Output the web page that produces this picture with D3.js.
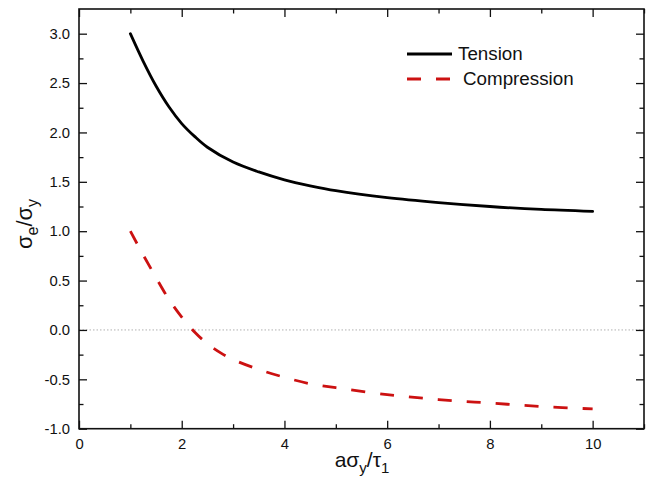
<!DOCTYPE html>
<html><head><meta charset="utf-8">
<script src="https://cdn.jsdelivr.net/npm/d3@7"></script>
<style>body{margin:0;background:#fff}svg{display:block}text{font-family:"Liberation Sans",Arial,sans-serif;fill:#111}</style>
</head><body><svg id="c" width="656" height="482"></svg>
<script>
const tensionX = [1, 1.25, 1.5, 1.75, 2, 2.25, 2.5, 3, 3.5, 4, 4.5, 5, 6, 7, 8, 9, 10];
const tensionY = [3.0, 2.72, 2.47, 2.26, 2.09, 1.96, 1.85, 1.70, 1.60, 1.52, 1.46, 1.41, 1.34, 1.29, 1.25, 1.22, 1.20];
const compX = [1, 1.25, 1.5, 1.75, 2, 2.25, 2.5, 2.75, 3, 3.5, 4, 4.5, 5, 6, 7, 8, 9, 10];
const compY = [1.0, 0.76, 0.53, 0.31, 0.13, -0.02, -0.14, -0.23, -0.30, -0.40, -0.48, -0.545, -0.585, -0.655, -0.705, -0.74, -0.775, -0.80];
const xMajor = [0, 2, 4, 6, 8, 10];
const xMinor = [1, 3, 5, 7, 9, 11];
const yMajor = [-1.0, -0.5, 0.0, 0.5, 1.0, 1.5, 2.0, 2.5, 3.0];
const yMinor = [-0.75, -0.25, 0.25, 0.75, 1.25, 1.75, 2.25, 2.75];
const seriesNames = ["Tension", "Compression"];

const svg = d3.select("#c");
const L = 79, R = 644, T = 9, B = 428.7;
const x = d3.scaleLinear().domain([0, 11]).range([L, R]);
const y = d3.scaleLinear().domain([-1, 3.25]).range([B, T]);

// zero line
svg.append("line").attr("x1", L).attr("x2", R).attr("y1", y(0)).attr("y2", y(0))
  .attr("stroke", "#b0b0b0").attr("stroke-width", 1).attr("stroke-dasharray", "1.5,2");

function styleAxis(g){ g.select(".domain").remove(); g.selectAll("line").attr("stroke","#111").attr("stroke-width",1.3); }
const fmtY = d => d.toFixed(1);
const lbl = g => g.selectAll("text").attr("font-size",14.8).attr("font-family","Liberation Sans, Arial").attr("fill","#111");
// bottom
svg.append("g").attr("transform",`translate(0,${B})`)
  .call(d3.axisBottom(x).tickValues(xMajor).tickSizeInner(-8).tickSizeOuter(0).tickPadding(10).tickFormat(d=>String(d)))
  .call(styleAxis).call(lbl);
svg.append("g").attr("transform",`translate(0,${B})`)
  .call(d3.axisBottom(x).tickValues(xMinor).tickSizeInner(-4.5).tickSizeOuter(0).tickFormat(""))
  .call(styleAxis);
// top
svg.append("g").attr("transform",`translate(0,${T})`)
  .call(d3.axisTop(x).tickValues(xMajor).tickSizeInner(-8).tickSizeOuter(0).tickFormat(""))
  .call(styleAxis);
svg.append("g").attr("transform",`translate(0,${T})`)
  .call(d3.axisTop(x).tickValues(xMinor).tickSizeInner(-4.5).tickSizeOuter(0).tickFormat(""))
  .call(styleAxis);
// left
svg.append("g").attr("transform",`translate(${L},0)`)
  .call(d3.axisLeft(y).tickValues(yMajor).tickSizeInner(-8).tickSizeOuter(0).tickPadding(9).tickFormat(fmtY))
  .call(styleAxis).call(lbl);
svg.append("g").attr("transform",`translate(${L},0)`)
  .call(d3.axisLeft(y).tickValues(yMinor).tickSizeInner(-4.5).tickSizeOuter(0).tickFormat(""))
  .call(styleAxis);
// right
svg.append("g").attr("transform",`translate(${R},0)`)
  .call(d3.axisRight(y).tickValues(yMajor).tickSizeInner(-8).tickSizeOuter(0).tickFormat(""))
  .call(styleAxis);
svg.append("g").attr("transform",`translate(${R},0)`)
  .call(d3.axisRight(y).tickValues(yMinor).tickSizeInner(-4.5).tickSizeOuter(0).tickFormat(""))
  .call(styleAxis);
// frame
svg.append("rect").attr("x",L).attr("y",T).attr("width",R-L).attr("height",B-T)
  .attr("fill","none").attr("stroke","#111").attr("stroke-width",1.6);

const line = d3.line().x(d=>x(d[0])).y(d=>y(d[1])).curve(d3.curveCatmullRom.alpha(0.5));
const tData = tensionX.map((v,i)=>[v,tensionY[i]]);
const cData = compX.map((v,i)=>[v,compY[i]]);
svg.append("path").datum(tData).attr("d",line).attr("fill","none").attr("stroke","#000").attr("stroke-width",2.8).attr("stroke-linecap","round");
svg.append("path").datum(cData).attr("d",line).attr("fill","none").attr("stroke","#cc1111").attr("stroke-width",2.8).attr("stroke-dasharray","14,15");

// legend
svg.append("line").attr("x1",407).attr("x2",452).attr("y1",54).attr("y2",54).attr("stroke","#000").attr("stroke-width",2.8);
svg.append("text").attr("x",458).attr("y",59.5).attr("font-size",18.8).text(seriesNames[0]);
svg.append("line").attr("x1",407).attr("x2",450).attr("y1",79).attr("y2",79).attr("stroke","#cc1111").attr("stroke-width",2.8).attr("stroke-dasharray","14,15");
svg.append("text").attr("x",463).attr("y",85).attr("font-size",18.8).text(seriesNames[1]);

// x title
const xt = svg.append("text").attr("x",362).attr("y",467).attr("text-anchor","middle").attr("font-size",21);
xt.append("tspan").text("aσ");
xt.append("tspan").attr("font-size",15).attr("dy",6).text("y");
xt.append("tspan").attr("dy",-6).text("/τ");
xt.append("tspan").attr("font-size",15).attr("dy",6).text("1");

// y title
const yt = svg.append("text").attr("transform","translate(32,224) rotate(-90)").attr("text-anchor","middle").attr("font-size",22);
yt.append("tspan").text("σ");
yt.append("tspan").attr("font-size",16).attr("dy",6).text("e");
yt.append("tspan").attr("dy",-6).text("/σ");
yt.append("tspan").attr("font-size",16).attr("dy",6).text("y");
</script></body></html>
